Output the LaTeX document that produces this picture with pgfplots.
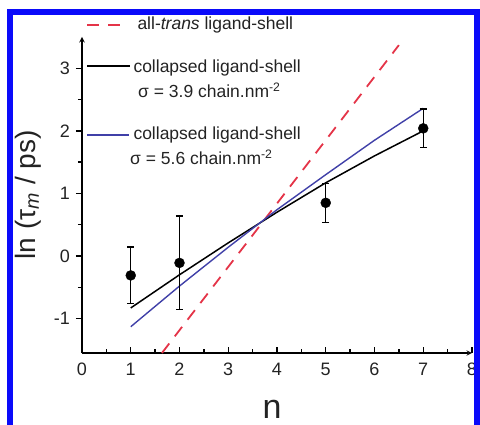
\documentclass[border=0pt]{standalone}
\usepackage{fontspec}
\setmainfont{Liberation Sans}
\usepackage{pgfplots}
\pgfplotsset{compat=1.18}

\definecolor{redd}{RGB}{228,52,72}
\definecolor{bluel}{RGB}{64,64,168}
\definecolor{frameblue}{RGB}{10,10,250}
\definecolor{txt}{RGB}{35,35,35}

\pgfplotsset{
  common/.style={
    at={(82pt,71pt)}, anchor=south west,
    scale only axis, width=390pt, height=316pt,
    xmin=0, xmax=8, ymin=-1.55, ymax=3.5,
    axis line style={-, line width=1.4pt, black},
    tick style={line width=1.3pt, black},
    major tick length=6pt, minor tick length=4pt,
    tick label style={font=\fontsize{18}{18}\selectfont, text=txt, inner sep=0pt},
    /pgf/number format/assume math mode=true,
  }
}

\begin{document}
\begin{tikzpicture}[x=1pt,y=1pt]
\begin{axis}[common,
  axis x line=bottom, axis y line=none,
  xtick={0,...,8}, minor x tick num=1, ytick=\empty,
  tick align=inside,
  xticklabel style={yshift=-10pt},
  xlabel={n},
  every axis x label/.style={at={(axis description cs:0.5,0)}, anchor=base, yshift=-65pt, xshift=-5pt, font=\fontsize{34}{34}\selectfont, text=txt},
]
\addplot[redd, line width=1.8pt, dash pattern=on 12pt off 9pt] coordinates {(1.64,-1.55) (6.5,3.37)};
\addplot[black, line width=1.5pt] coordinates {(1,-0.83) (2,-0.30) (3,0.21) (4,0.70) (5,1.17) (6,1.60) (7,2.00)};
\addplot[bluel, line width=1.4pt] coordinates {(1,-1.13) (2,-0.48) (3,0.14) (4,0.74) (5,1.30) (6,1.85) (7,2.36)};
\addplot[only marks, mark=*, mark size=5pt, black,
  error bars/.cd, y dir=both, y explicit,
  error bar style={line width=1.2pt, black},
  error mark options={rotate=90, line width=1.2pt, mark size=3.5pt, black}]
  coordinates {(1,-0.31) +- (0,0.455) (2,-0.11) +- (0,0.75) (5,0.85) +- (0,0.31) (7,2.04) +- (0,0.31)};
\end{axis}
\begin{axis}[common,
  axis y line=left, axis x line=none,
  ytick={-1,0,1,2,3}, minor y tick num=1, xtick=\empty,
  tick align=outside,
  yticklabel style={xshift=-6pt},
  ylabel={ln (τ\textsubscript{\textit{m}} / ps)},
  every axis y label/.style={at={(axis description cs:0,0.5)}, rotate=90, anchor=center, yshift=54pt, xshift=0pt, font=\fontsize{28}{28}\selectfont, text=txt},
]
\end{axis}
% legend
\draw[redd, line width=1.8pt, dash pattern=on 12pt off 9pt] (87,399) -- (120,399);
\node[anchor=base west, inner sep=0pt, font=\fontsize{17.5}{20}\selectfont, text=txt] at (137.3,394.5) {all-\textit{trans} ligand-shell};
\draw[black, line width=1.5pt] (87,358) -- (130,358);
\node[anchor=base west, inner sep=0pt, font=\fontsize{17.5}{20}\selectfont, text=txt] at (133.3,351.3) {collapsed ligand-shell};
\node[anchor=base west, inner sep=0pt, font=\fontsize{17.5}{20}\selectfont, text=txt] at (138,326.7) {σ = 3.9 chain.nm\textsuperscript{-2}};
\draw[bluel, line width=1.4pt] (87,289) -- (129,289);
\node[anchor=base west, inner sep=0pt, font=\fontsize{17.5}{20}\selectfont, text=txt] at (133.3,284) {collapsed ligand-shell};
\node[anchor=base west, inner sep=0pt, font=\fontsize{17.5}{20}\selectfont, text=txt] at (130,259.4) {σ = 5.6 chain.nm\textsuperscript{-2}};
% frame
\draw[frameblue, line width=6pt, line join=miter] (9.5,-20) -- (9.5,412) -- (477,412) -- (477,-20);
\pgfresetboundingbox
\useasboundingbox (0,0) rectangle (480,424);
\end{tikzpicture}
\end{document}
